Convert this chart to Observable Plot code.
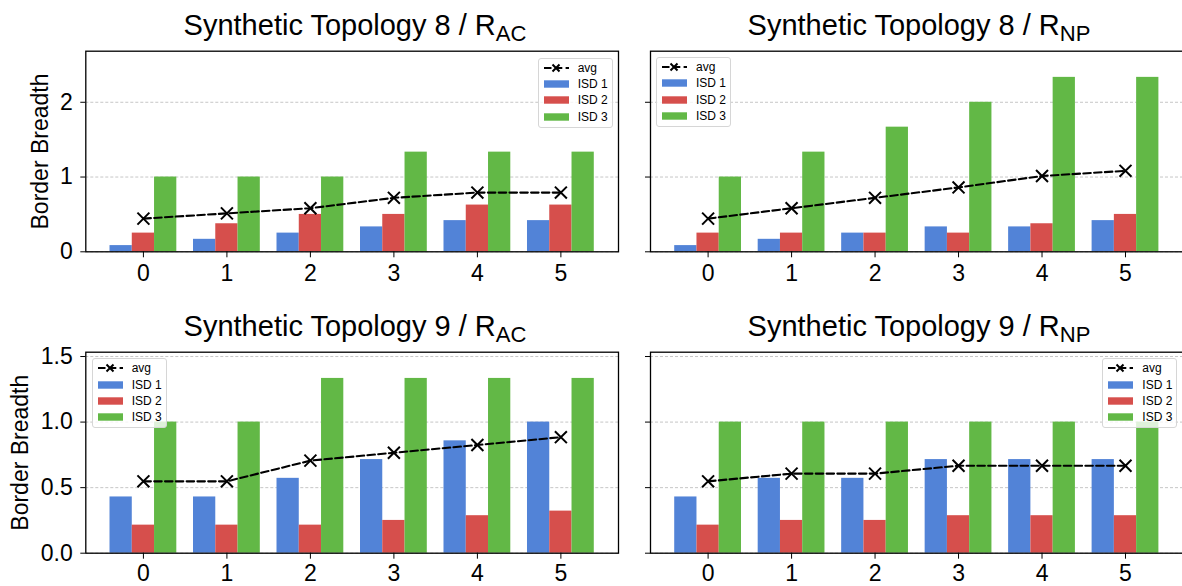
<!DOCTYPE html>
<html>
<head>
<meta charset="utf-8">
<script src="https://cdn.jsdelivr.net/npm/d3@7"></script>
<script src="https://cdn.jsdelivr.net/npm/@observablehq/plot@0.6"></script>
<style>
  html, body { margin: 0; padding: 0; background: #fff; }
  #root { position: relative; width: 1182px; height: 586px; overflow: hidden; background: #fff;
          font-family: "Liberation Sans", Arial, Helvetica, sans-serif; }
  .panel { position: absolute; max-width: none !important; }
  .panel text { font-size: 23px !important; font-family: "Liberation Sans", Arial, sans-serif !important; }
  .title { position: absolute; font-size: 29px; line-height: 29px; white-space: nowrap; color: #000;
           transform: translateX(-50%); }
  .title .sub { font-size: 76%; position: relative; top: 0.3em; }
  .legend { position: absolute; box-sizing: border-box; border: 1px solid #d6d6d6; border-radius: 3px;
            background: rgba(255,255,255,0.8); padding: 1px 4px 2px 5px; font-size: 12px; line-height: 12px;
            color: #000; white-space: nowrap; }
  .legend .row { display: flex; align-items: center; height: 16.3px; white-space: nowrap; }
  .legend .sw { width: 25px; height: 16px; margin-right: 9px; display: block; flex-shrink: 0; }
  .legend span { white-space: nowrap; flex-shrink: 0; }
</style>
</head>
<body>
<div id="root"></div>
<script>
// ---- data ----
const categories = [0, 1, 2, 3, 4, 5];
const seriesNames = ["ISD 1", "ISD 2", "ISD 3"];
const avgName = "avg";
const seriesColors = ["#5283d7", "#d64f4c", "#62b846"];

const t8ac_isd1 = [0.083, 0.167, 0.25, 0.333, 0.417, 0.417];
const t8ac_isd2 = [0.25, 0.375, 0.5, 0.5, 0.625, 0.625];
const t8ac_isd3 = [1, 1, 1, 1.333, 1.333, 1.333];
const t8ac_avg  = [0.444, 0.514, 0.583, 0.722, 0.792, 0.792];

const t8np_isd1 = [0.083, 0.167, 0.25, 0.333, 0.333, 0.417];
const t8np_isd2 = [0.25, 0.25, 0.25, 0.25, 0.375, 0.5];
const t8np_isd3 = [1, 1.333, 1.667, 2, 2.333, 2.333];
const t8np_avg  = [0.444, 0.583, 0.722, 0.861, 1.014, 1.083];

const t9ac_isd1 = [0.429, 0.429, 0.571, 0.714, 0.857, 1.0];
const t9ac_isd2 = [0.214, 0.214, 0.214, 0.25, 0.286, 0.321];
const t9ac_isd3 = [1, 1, 1.333, 1.333, 1.333, 1.333];
const t9ac_avg  = [0.548, 0.548, 0.706, 0.766, 0.825, 0.885];

const t9np_isd1 = [0.429, 0.571, 0.571, 0.714, 0.714, 0.714];
const t9np_isd2 = [0.214, 0.25, 0.25, 0.286, 0.286, 0.286];
const t9np_isd3 = [1, 1, 1, 1, 1, 1];
const t9np_avg  = [0.548, 0.607, 0.607, 0.667, 0.667, 0.667];

const yTicksTop = [0, 1, 2];
const yTicksBottom = [0, 0.5, 1.0, 1.5];
const yLabel = "Border Breadth";

const titles = [
  ["Synthetic Topology 8 / R", "AC"],
  ["Synthetic Topology 8 / R", "NP"],
  ["Synthetic Topology 9 / R", "AC"],
  ["Synthetic Topology 9 / R", "NP"]
];

// ---- drawing ----
const root = document.getElementById("root");
const FONT = '"Liberation Sans", Arial, Helvetica, sans-serif';
const bw = 0.8 / 3;
const offs = [-bw, 0, bw];

function panel(cfg) {
  const rows = [];
  cfg.series.forEach((vals, s) => vals.forEach((v, i) =>
    rows.push({cat: categories[i], s: seriesNames[s], si: s, value: v})));
  const avgRows = cfg.avg.map((v, i) => ({cat: categories[i], value: v}));
  const marks = [
    Plot.ruleY(cfg.yTicks, {stroke: "#b8b8b8", strokeWidth: 0.8, strokeDasharray: "3,2"}),
    Plot.rectY(rows, {
      x1: d => d.cat + offs[d.si] - bw / 2,
      x2: d => d.cat + offs[d.si] + bw / 2,
      y1: 0, y2: "value", fill: "s"
    }),
    Plot.line(avgRows, {x: "cat", y: "value", stroke: "#000", strokeWidth: 2.1, strokeDasharray: "7.5,3.3"}),
    Plot.dot(avgRows, {x: "cat", y: "value", symbol: "times", r: 5.5, stroke: "#000", strokeWidth: 2}),
    Plot.axisX({ticks: categories, tickSize: 6, tickPadding: cfg.xPad, tickFormat: d3.format("d")}),
    Plot.axisY({ticks: cfg.yTicks, tickSize: 5, tickPadding: 8,
                tickFormat: cfg.showY ? cfg.yFmt : () => ""}),
    Plot.frame({stroke: "#000", strokeWidth: 1.3})
  ];
  if (cfg.showY) {
    marks.push(Plot.text([yLabel], {frameAnchor: "left", rotate: -90, dx: cfg.labelDx, lineAnchor: "middle",
                                    textAnchor: "middle", text: d => d, fill: "#000"}));
  }
  const svg = Plot.plot({
    width: cfg.w, height: cfg.h,
    marginLeft: cfg.ml, marginRight: cfg.mr, marginTop: cfg.mt, marginBottom: cfg.mb,
    x: {domain: [-0.69, 5.69], label: null, axis: null},
    y: {domain: [0, cfg.yMax], label: null, axis: null},
    color: {domain: seriesNames, range: seriesColors},
    style: {fontFamily: FONT, fontSize: "23px", color: "#000", background: "transparent", overflow: "visible"},
    marks
  });
  svg.classList.add("panel");
  svg.style.left = cfg.left + "px";
  svg.style.top = cfg.top + "px";
  svg.style.width = cfg.w + "px";
  svg.style.height = cfg.h + "px";
  root.appendChild(svg);

  const t = document.createElement("div");
  t.className = "title";
  t.style.left = cfg.titleX + "px";
  t.style.top = cfg.titleY + "px";
  t.innerHTML = cfg.title[0] + '<span class="sub">' + cfg.title[1] + '</span>';
  root.appendChild(t);

  // legend
  const lg = document.createElement("div");
  lg.className = "legend";
  lg.style.width = "75px";
  lg.style.height = "70px";
  if (cfg.legRight != null) lg.style.left = (cfg.legRight - 75) + "px";
  else lg.style.left = cfg.legLeft + "px";
  lg.style.top = cfg.legTop + "px";
  let html = '<div class="row"><svg class="sw" viewBox="0 0 25 16">' +
    '<line x1="0" y1="8" x2="25" y2="8" stroke="#000" stroke-width="2" stroke-dasharray="7.5,3.3"/>' +
    '<path d="M8.5,4.5L15.5,11.5M15.5,4.5L8.5,11.5" stroke="#000" stroke-width="2"/></svg>' +
    '<span>' + avgName + '</span></div>';
  seriesNames.forEach((n, i) => {
    html += '<div class="row"><svg class="sw" viewBox="0 0 25 16"><rect x="0" y="4.3" width="25" height="7.4" fill="' +
      seriesColors[i] + '"/></svg><span>' + n + '</span></div>';
  });
  lg.innerHTML = html;
  root.appendChild(lg);
}

const topH = 295, botH = 286;
panel({series: [t8ac_isd1, t8ac_isd2, t8ac_isd3], avg: t8ac_avg, yTicks: yTicksTop, yFmt: d3.format("d"),
  yMax: 2.683, showY: true, labelDx: -45, xPad: 7, left: 0, top: 0, w: 630, h: topH, ml: 85.3, mr: 12, mt: 50.7, mb: topH - 251.3,
  title: titles[0], titleX: 355, titleY: 10.5, legRight: 612.7, legTop: 57.7});
panel({series: [t8np_isd1, t8np_isd2, t8np_isd3], avg: t8np_avg, yTicks: yTicksTop, yFmt: d3.format("d"),
  yMax: 2.683, showY: false, xPad: 7, left: 630, top: 0, w: 560, h: topH, ml: 20, mr: 7.4, mt: 50.7, mb: topH - 251.3,
  title: titles[1], titleX: 919, titleY: 10.5, legLeft: 656, legTop: 57});
panel({series: [t9ac_isd1, t9ac_isd2, t9ac_isd3], avg: t9ac_avg, yTicks: yTicksBottom, yFmt: d3.format(".1f"),
  yMax: 1.533, showY: true, labelDx: -65, xPad: 5, left: 0, top: 300, w: 630, h: botH, ml: 85.3, mr: 12, mt: 51.7, mb: botH - 252.7,
  title: titles[2], titleX: 355, titleY: 311.5, legLeft: 91.7, legTop: 358.3});
panel({series: [t9np_isd1, t9np_isd2, t9np_isd3], avg: t9np_avg, yTicks: yTicksBottom, yFmt: d3.format(".1f"),
  yMax: 1.533, showY: false, xPad: 5, left: 630, top: 300, w: 560, h: botH, ml: 20, mr: 7.4, mt: 51.7, mb: botH - 252.7,
  title: titles[3], titleX: 919, titleY: 311.5, legRight: 1177.3, legTop: 358.3});
</script>
</body>
</html>
